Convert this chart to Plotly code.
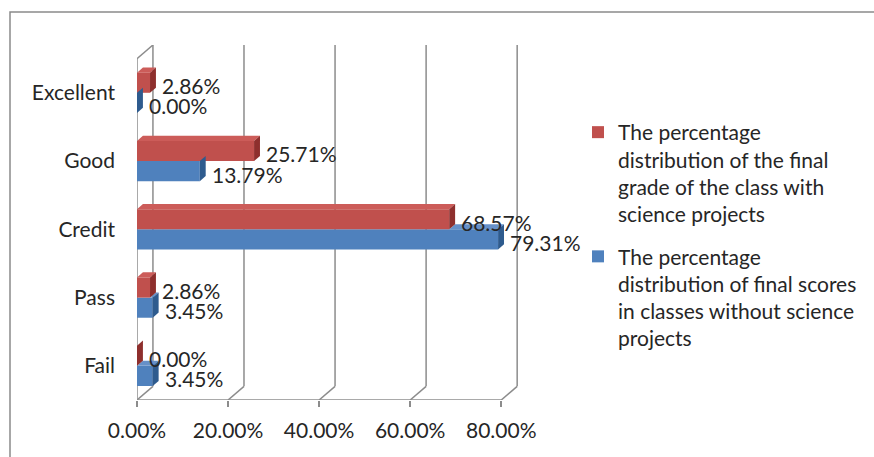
import plotly.graph_objects as go

# Grade categories, bottom to top
categories = ["Fail", "Pass", "Credit", "Good", "Excellent"]
with_projects = [0.00, 2.86, 68.57, 25.71, 2.86]
without_projects = [3.45, 3.45, 79.31, 13.79, 0.00]
name_with = "The percentage<br>distribution of the final<br>grade of the class with<br>science projects"
name_without = "The percentage<br>distribution of final scores<br>in classes without science<br>projects"
x_ticks = [0, 20, 40, 60, 80]
x_tick_text = ["0.00%", "20.00%", "40.00%", "60.00%", "80.00%"]

RED, RED_TOP, RED_SIDE = "#C0504D", "#CC5C59", "#8E2F2D"
BLUE, BLUE_TOP, BLUE_SIDE = "#4F81BD", "#6690C8", "#2E5B8E"
GRID = "#8C8C8C"
FONT = "Lato"
FS = 21
TXT = "#262626"

ypos = list(range(len(categories)))
BAR_H = 0.295           # height of one bar in category units
WALL_DX, WALL_DY = 3.5, 0.2   # depth of the 3-D box (x in %, y in category units)
BAR_DX, BAR_DY = 1.3, 0.075   # depth of each bar

fig = go.Figure()
fig.add_trace(go.Bar(y=ypos, x=without_projects, orientation="h", name=name_without,
                     legendgroup="without", legendrank=2,
                     marker=dict(color=BLUE, line=dict(width=0))))
fig.add_trace(go.Bar(y=ypos, x=with_projects, orientation="h", name=name_with,
                     legendgroup="with", legendrank=1,
                     marker=dict(color=RED, line=dict(width=0))))

shapes = []
# back wall gridlines with floor diagonals
for t in x_ticks:
    shapes.append(dict(type="line", xref="x", yref="y", x0=t + WALL_DX, x1=t + WALL_DX,
                       y0=-0.5 + WALL_DY, y1=len(categories) - 0.5 + WALL_DY,
                       line=dict(color=GRID, width=1.5), layer="below"))
    shapes.append(dict(type="line", xref="x", yref="y", x0=t, x1=t + WALL_DX,
                       y0=-0.5, y1=-0.5 + WALL_DY,
                       line=dict(color=GRID, width=1.5), layer="below"))
# left wall front edge and top diagonal
shapes.append(dict(type="line", xref="x", yref="y", x0=0, x1=0, y0=-0.5,
                   y1=len(categories) - 0.5, line=dict(color=GRID, width=1.5), layer="below"))
shapes.append(dict(type="line", xref="x", yref="y", x0=0, x1=WALL_DX,
                   y0=len(categories) - 0.5, y1=len(categories) - 0.5 + WALL_DY,
                   line=dict(color=GRID, width=1.5), layer="below"))
# floor front edge
shapes.append(dict(type="line", xref="x", yref="y", x0=0, x1=x_ticks[-1], y0=-0.5, y1=-0.5,
                   line=dict(color=GRID, width=1.5), layer="below"))
# category tick marks on the left edge
for i in range(len(categories) + 1):
    shapes.append(dict(type="line", xref="x", yref="y", x0=-1.3, x1=0, y0=i - 0.5, y1=i - 0.5,
                       line=dict(color=GRID, width=1.5), layer="below"))


def faces(v, yc, top_from, top_col, side_col):
    yb, yt = yc - BAR_H / 2, yc + BAR_H / 2
    out = []
    if v > top_from:
        out.append(dict(type="path", xref="x", yref="y",
                        path=f"M {top_from},{yt} L {top_from + BAR_DX},{yt + BAR_DY} "
                             f"L {v + BAR_DX},{yt + BAR_DY} L {v},{yt} Z",
                        fillcolor=top_col, line=dict(width=0), layer="above"))
    out.append(dict(type="path", xref="x", yref="y",
                    path=f"M {v},{yb} L {v + BAR_DX},{yb + BAR_DY} "
                         f"L {v + BAR_DX},{yt + BAR_DY} L {v},{yt} Z",
                    fillcolor=side_col, line=dict(width=0), layer="above"))
    return out


annotations = []
for i, (r, b) in enumerate(zip(with_projects, without_projects)):
    yc_blue, yc_red = i - BAR_H / 2, i + BAR_H / 2
    shapes += faces(b, yc_blue, r if b > r else b, BLUE_TOP, BLUE_SIDE)
    shapes += faces(r, yc_red, 0, RED_TOP, RED_SIDE)
    for v, yc in ((r, yc_red), (b, yc_blue)):
        annotations.append(dict(x=v + BAR_DX, y=yc, xref="x", yref="y", text=f"{v:.2f}%",
                                showarrow=False, xanchor="left", xshift=4, yshift=-3,
                                font=dict(family=FONT, size=FS, color=TXT)))

# outer chart frame
L, R_, T, B = 137, 874 - 350, 45, 457 - 57
pw, ph = R_ - L, B - T
shapes.append(dict(type="rect", xref="paper", yref="paper",
                   x0=(10 - L) / pw, x1=(890 - L) / pw, y0=(B - 480) / ph, y1=(B - 12) / ph,
                   line=dict(color="#8A8A8A", width=1.5), fillcolor="rgba(0,0,0,0)", layer="below"))

fig.update_layout(
    width=874, height=457,
    margin=dict(l=L, r=874 - R_, t=T, b=457 - B),
    paper_bgcolor="white", plot_bgcolor="white",
    barmode="group", bargap=0.41, bargroupgap=0,
    font=dict(family=FONT, size=FS, color=TXT),
    xaxis=dict(range=[0, 85], tickvals=x_ticks, ticktext=x_tick_text, showgrid=False,
               zeroline=False, showline=False, ticks="outside", ticklen=6, tickwidth=1.5,
               tickcolor=GRID, ticklabelstandoff=6),
    yaxis=dict(range=[-0.5, len(categories) - 0.5 + WALL_DY], tickvals=ypos, ticktext=categories,
               showgrid=False, zeroline=False, showline=False, ticks="", ticklabelstandoff=21),
    legend=dict(x=(578 - L) / pw, y=(B - 112) / ph, xanchor="left", yanchor="top",
                traceorder="grouped", tracegroupgap=12, valign="top",
                font=dict(family=FONT, size=FS, color=TXT),
                bgcolor="rgba(0,0,0,0)"),
    shapes=shapes, annotations=annotations, showlegend=True,
)

fig.write_html("out.html")
